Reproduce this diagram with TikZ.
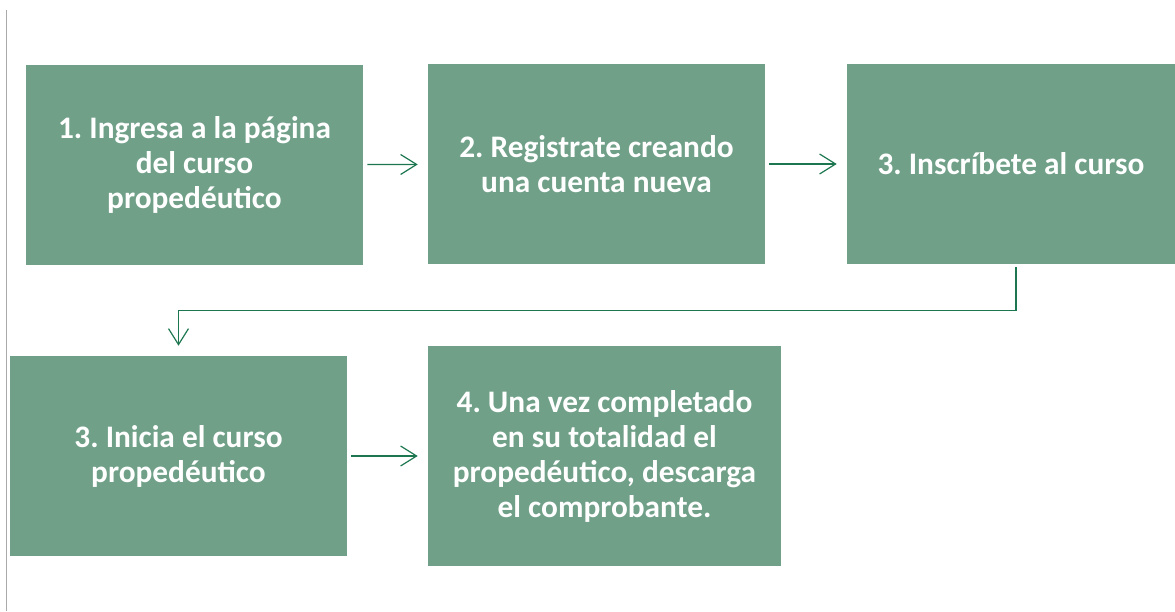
\documentclass[tikz,border=0pt]{standalone}
\usepackage{fontspec}
\setmainfont{Carlito}
\usetikzlibrary{arrows.meta}
\frenchspacing

\definecolor{boxGreen}{RGB}{112,160,136}
\definecolor{arrowGreen}{RGB}{28,118,80}
\definecolor{ruleGray}{RGB}{170,170,170}

\begin{document}
\begin{tikzpicture}[x=0.75pt,y=-0.75pt,%%
  boxStyle/.style={fill=boxGreen,draw=none,text=white,align=center,%%
    font=\fontsize{23.5}{26.25}\selectfont\bfseries,inner sep=0pt,%%
    minimum width=252.75pt,minimum height=150pt},%%
  arrowStyle/.style={-{Straight Barb[length=12pt,width=15pt]},%%
    draw=arrowGreen,line width=0.9pt,shorten <=3pt,shorten >=7.5pt},%%
  lineStyle/.style={-,draw=ruleGray,line width=1.1pt}%%
]
%%
\useasboundingbox (0,0) rectangle (1175,611);
%%
%% The thin rule on the left.
\coordinate (ruleTop) at (6.5,10);
\coordinate (ruleBottom) at (6.5,611);
\draw[lineStyle] (ruleTop) -- (ruleBottom);
%%
%% First row of steps.
\node[boxStyle] (ingresa) at (194.5,165) {1. Ingresa a la página\\del curso\\propedéutico};
\node[boxStyle] (registro) at (596.5,164) {2. Registrate creando\\una cuenta nueva};
\node[boxStyle,minimum width=246pt] (inscribe) at (1011,164) {3. Inscríbete al curso};
%%
%% Second row of steps.
\node[boxStyle] (inicia) at (178.5,456) {3. Inicia el curso\\propedéutico};
\node[boxStyle,minimum width=264.75pt,minimum height=165pt] (descarga) at (604.5,456)
  {4. Una vez completado\\en su totalidad el\\propedéutico, descarga\\el comprobante.};
%%
%% Connect the steps.
\draw[arrowStyle] (ingresa) -- (registro);
\draw[arrowStyle] (registro) -- (inscribe);
\draw[arrowStyle,shorten <=0pt] ([xshift=3.75pt,yshift=-2.25pt]inscribe.south) -- ++(0,43) -| (inicia.north);
\draw[arrowStyle] (inicia) -- (descarga);
\end{tikzpicture}
\end{document}
